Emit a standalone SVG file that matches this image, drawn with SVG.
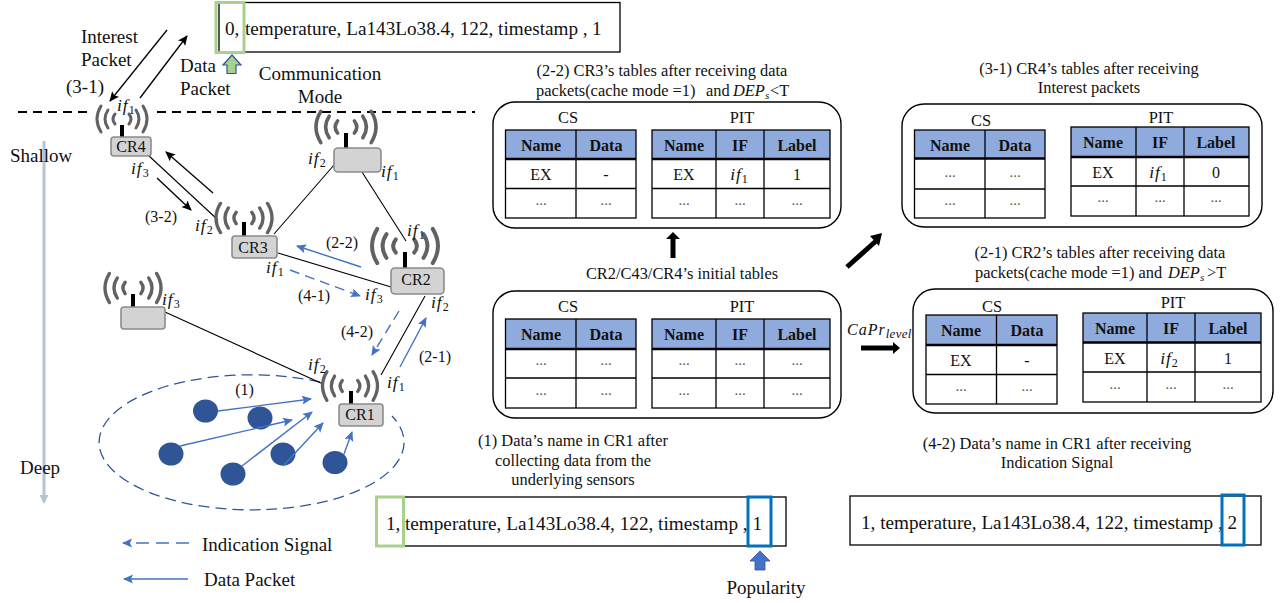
<svg xmlns="http://www.w3.org/2000/svg" width="1281" height="603" viewBox="0 0 1281 603">
<style>
text{font-family:"Liberation Serif","Times New Roman",serif;fill:#111}
.f19{font-size:19px}.f192{font-size:19.2px}.f165{font-size:16.4px}.f16{font-size:16px}
.m{text-anchor:middle}
.b{font-weight:bold}
.it{font-style:italic;letter-spacing:1px;font-size:17.5px}
.sub{font-style:normal;font-size:12px;letter-spacing:0}
.subi{font-style:italic;font-size:13px;letter-spacing:.3px}
.dots{font-size:15px;fill:#555;text-anchor:middle}
.wave{fill:none;stroke:#626262;stroke-width:3;stroke-linecap:round}
.dev{fill:#d3d3d3;stroke:#8c8c8c;stroke-width:1.6}
.ant{stroke:#000;stroke-width:4}
.link{stroke:#000;stroke-width:1.1;fill:none}
.ka{stroke:#000;stroke-width:1.3;fill:none;marker-end:url(#mk)}
.ba{stroke:#4472c4;stroke-width:1.4;fill:none;marker-end:url(#mb)}
.bd{stroke:#4472c4;stroke-width:1.4;fill:none;stroke-dasharray:10 6;marker-end:url(#mb)}
.thick{stroke:#000;stroke-width:5;fill:none}
.panel{fill:#fff;stroke:#000;stroke-width:1.4}
.hd{fill:#8faadc}
.grid{fill:none;stroke:#000;stroke-width:1.3}
.hl{stroke:#000;stroke-width:2.4}
.box{fill:#fff;stroke:#000;stroke-width:1.3}
.gbox{fill:none;stroke:#a9d18e;stroke-width:3}
.blbox{fill:none;stroke:#0070c0;stroke-width:3}
.sensor{fill:#2f5597}
</style>
<defs>
<marker id="mk" markerUnits="userSpaceOnUse" markerWidth="11" markerHeight="10" refX="9" refY="4.5" orient="auto"><path d="M0,0L10,4.5L0,9L2,4.5Z" fill="#000"/></marker>
<marker id="mb" markerUnits="userSpaceOnUse" markerWidth="11" markerHeight="10" refX="9" refY="4.5" orient="auto"><path d="M0,0L10,4.5L0,9L2,4.5Z" fill="#4472c4"/></marker>
<marker id="ms" markerUnits="userSpaceOnUse" markerWidth="11" markerHeight="10" refX="7" refY="4.5" orient="auto"><path d="M0,0L9,4.5L0,9Z" fill="#b4c3da"/></marker>
<g id="waves">
<path class="wave" d="M-21,-13Q-29,0 -21,13M-14,-9Q-20,0 -14,9M-7,-5Q-11,0 -7,5M21,-13Q29,0 21,13M14,-9Q20,0 14,9M7,-5Q11,0 7,5"/>
</g>
</defs>
<rect width="1281" height="603" fill="#fff"/>

<g id="boundary">
<path d="M18,112H90M157,112H475" stroke="#000" stroke-width="1.8" stroke-dasharray="9 6" fill="none"/>
</g>
<g id="depth-axis">
<path d="M44,141V502" stroke="#b4c3da" stroke-width="3" fill="none" marker-end="url(#ms)"/>
<text class="f19" x="10" y="162">Shallow</text>
<text class="f19" x="20" y="474">Deep</text>
</g>

<g id="sensor-field">
<path d="M320,382A152.5,67.5 0 1 0 392,416" fill="none" stroke="#2f5597" stroke-width="1.3" stroke-dasharray="11 6"/>
<ellipse class="sensor" cx="205.500" cy="411" rx="12.500" ry="11.500"/>
<ellipse class="sensor" cx="260" cy="418" rx="12.500" ry="11.500"/>
<ellipse class="sensor" cx="171" cy="454" rx="12.500" ry="11.500"/>
<ellipse class="sensor" cx="233" cy="474" rx="12.500" ry="11.500"/>
<ellipse class="sensor" cx="283" cy="454" rx="12.500" ry="11.500"/>
<ellipse class="sensor" cx="335" cy="462.500" rx="12.500" ry="11.500"/>
<text class="f16 m" x="244.500" y="395">(1)</text>
</g>

<g id="connectors">
<path class="link" d="M148,155L218,220M274,234L334,165M362,172L406,241M278,253L391,287M165,312L323,384M425,296L381,375"/>
<path class="ka" d="M167,30L110,101"/>
<path class="ka" d="M140,98L187,36"/>
<path class="ka" d="M213,193L166,152"/>
<path class="ka" d="M157,178L191,210"/>
<path class="ba" d="M361,267L297,246"/>
<path class="bd" d="M290,270L360,296"/>
<path class="bd" d="M399,311L372,355"/>
<path class="ba" d="M400,367L426,318"/>
<path class="ba" d="M218,411L311,399"/>
<path class="ba" d="M180,446L292,420"/>
<path class="ba" d="M242,466L312,412"/>
<path class="ba" d="M283,466L323,423"/>
<path class="ba" d="M344,454L352,432"/>
<path class="bd" style="stroke-dasharray:13 7" d="M189,543L123,543"/>
<path class="ba" d="M188,579L124,579"/>
<path class="thick" d="M673,258V238"/><path d="M666,239L673,232L680,239Z"/>
<path class="thick" d="M847,267L876,241"/><path d="M870,236L882,233L879,246Z"/>
<path class="thick" d="M861,348H893"/><path d="M893,342L900,348L893,354Z"/>
</g>

<g id="CR4">
<use href="#waves" transform="translate(122,119)"/>
<line class="ant" x1="122" y1="125" x2="122" y2="137"/>
<rect class="dev" x="111" y="137" width="40" height="19" rx="3"/>
<text class="f16 m" x="131" y="152">CR4</text>
<text class="it" x="117" y="111">if<tspan class="sub" dy="3">1</tspan></text>
<text class="it" x="131" y="174">if<tspan class="sub" dy="3">3</tspan></text>
</g>
<g id="CR-top">
<use href="#waves" transform="translate(346,127) scale(1.2)"/>
<line class="ant" x1="346" y1="133" x2="346" y2="148"/>
<rect class="dev" x="334" y="148" width="47" height="24" rx="4"/>
<text class="it" x="308" y="164">if<tspan class="sub" dy="3">2</tspan></text>
<text class="it" x="381" y="177">if<tspan class="sub" dy="3">1</tspan></text>
</g>
<g id="CR3">
<use href="#waves" transform="translate(244,218) scale(1.12)"/>
<line class="ant" x1="244" y1="222" x2="244" y2="236"/>
<rect class="dev" x="232" y="236" width="45" height="22" rx="3"/>
<text class="f16 m" x="253" y="253">CR3</text>
<text class="it" x="195" y="231">if<tspan class="sub" dy="3">2</tspan></text>
<text class="it" x="266" y="273">if<tspan class="sub" dy="3">1</tspan></text>
</g>
<g id="CR2">
<use href="#waves" transform="translate(405,246) scale(1.32)"/>
<line class="ant" x1="405" y1="252" x2="405" y2="268"/>
<rect class="dev" x="391" y="268" width="53" height="26" rx="4"/>
<text class="f16 m" x="416" y="285">CR2</text>
<text class="it" x="407" y="236">if<tspan class="sub" dy="3">1</tspan></text>
<text class="it" x="365" y="300">if<tspan class="sub" dy="3">3</tspan></text>
<text class="it" x="431" y="308">if<tspan class="sub" dy="3">2</tspan></text>
</g>
<g id="CR-left">
<use href="#waves" transform="translate(133,288) scale(1.12)"/>
<line class="ant" x1="133" y1="294" x2="133" y2="307"/>
<rect class="dev" x="121" y="307" width="44" height="22" rx="3"/>
<text class="it" x="162" y="305">if<tspan class="sub" dy="3">3</tspan></text>
</g>
<g id="CR1">
<use href="#waves" transform="translate(350,386) scale(1.1)"/>
<line class="ant" x1="351" y1="391" x2="351" y2="404"/>
<rect class="dev" x="339" y="404" width="44" height="22" rx="3"/>
<text class="f16 m" x="360" y="420">CR1</text>
<text class="it" x="308" y="370">if<tspan class="sub" dy="3">2</tspan></text>
<text class="it" x="387" y="388">if<tspan class="sub" dy="3">1</tspan></text>
</g>

<g id="edge-labels">
<text class="f19" x="81" y="43">Interest</text>
<text class="f19" x="81" y="66">Packet</text>
<text class="f19" x="66" y="93">(3-1)</text>
<text class="f19" x="180" y="72">Data</text>
<text class="f19" x="180" y="95">Packet</text>
<text class="f19 m" x="320" y="80">Communication</text>
<text class="f19 m" x="320" y="103">Mode</text>
<text class="f16" x="145" y="222">(3-2)</text>
<text class="f16" x="326" y="248">(2-2)</text>
<text class="f16" x="298" y="301">(4-1)</text>
<text class="f16" x="341" y="337">(4-2)</text>
<text class="f16" x="419" y="362">(2-1)</text>
</g>

<g id="name-top">
<rect class="box" x="219" y="2.500" width="401" height="49.500"/>
<text class="f192" x="225" y="35">0,</text>
<text class="f192" x="245" y="35">temperature, La143Lo38.4, 122, timestamp , <tspan x="592">1</tspan></text>
<rect class="gbox" x="216" y="2.500" width="28" height="50"/>
<path d="M232,55L241,65H236V73.500H227V65H223Z" fill="#a9d18e" stroke="#2f5597" stroke-width="1.200"/>
</g>

<g id="table-2-2">
<text class="f165 m" x="662" y="76">(2-2) CR3’s tables after receiving data</text>
<text class="f165" x="536" y="96">packets(cache mode =1)<tspan x="706">and</tspan><tspan x="733" font-style="italic">DEP</tspan><tspan font-style="italic" font-size="11" dy="3">s</tspan><tspan x="770" dy="-3">&lt;T</tspan></text>
<rect class="panel" x="493" y="102" width="348" height="126" rx="22"/>
<text class="f165 m" x="568" y="123">CS</text><text class="f165 m" x="742" y="123">PIT</text>
<rect class="hd" x="505.500" y="130" width="130.500" height="29"/><rect class="hd" x="652" y="130" width="178" height="29"/>
<rect class="grid" x="505.500" y="130" width="130.500" height="88"/><rect class="grid" x="652" y="130" width="178" height="88"/>
<path class="hl" d="M505.500,159H636M652,159H830"/>
<path class="grid" d="M576,130V218M505.500,188.500H636M716,130V218M764,130V218M652,188.500H830"/>
<text class="f16 m b" x="541" y="151">Name</text><text class="f16 m b" x="606" y="151">Data</text><text class="f16 m b" x="684" y="151">Name</text><text class="f16 m b" x="740" y="151">IF</text><text class="f16 m b" x="797" y="151">Label</text>
<text class="f16 m" x="541" y="180">EX</text><text class="f16 m" x="606" y="180">-</text><text class="f16 m" x="684" y="180">EX</text><text class="it m" x="739" y="180">if<tspan class="sub" dy="3">1</tspan></text><text class="f16 m" x="797" y="180">1</text>
<text class="dots" x="541" y="205">...</text><text class="dots" x="606" y="205">...</text><text class="dots" x="684" y="205">...</text><text class="dots" x="740" y="205">...</text><text class="dots" x="797" y="205">...</text>
</g>

<g id="table-initial">
<text class="f165 m" x="682" y="279">CR2/C43/CR4’s initial tables</text>
<rect class="panel" x="493" y="291" width="348" height="127" rx="22"/>
<text class="f165 m" x="568" y="312">CS</text><text class="f165 m" x="742" y="312">PIT</text>
<rect class="hd" x="505.500" y="319" width="130.500" height="30"/><rect class="hd" x="652" y="319" width="178" height="30"/>
<rect class="grid" x="505.500" y="319" width="130.500" height="89"/><rect class="grid" x="652" y="319" width="178" height="89"/>
<path class="hl" d="M505.500,349H636M652,349H830"/>
<path class="grid" d="M576,319V408M505.500,378H636M716,319V408M764,319V408M652,378H830"/>
<text class="f16 m b" x="541" y="340">Name</text><text class="f16 m b" x="606" y="340">Data</text><text class="f16 m b" x="684" y="340">Name</text><text class="f16 m b" x="740" y="340">IF</text><text class="f16 m b" x="797" y="340">Label</text>
<text class="dots" x="541" y="365">...</text><text class="dots" x="606" y="365">...</text><text class="dots" x="684" y="365">...</text><text class="dots" x="740" y="365">...</text><text class="dots" x="797" y="365">...</text>
<text class="dots" x="541" y="395">...</text><text class="dots" x="606" y="395">...</text><text class="dots" x="684" y="395">...</text><text class="dots" x="740" y="395">...</text><text class="dots" x="797" y="395">...</text>
</g>

<g id="table-3-1">
<text class="f165 m" x="1089" y="74">(3-1) CR4’s tables after receiving</text>
<text class="f165 m" x="1089" y="93">Interest packets</text>
<rect class="panel" x="902" y="104" width="360" height="123" rx="22"/>
<text class="f165 m" x="981" y="126">CS</text><text class="f165 m" x="1161" y="123">PIT</text>
<rect class="hd" x="914.500" y="130" width="130.500" height="28"/><rect class="hd" x="1071" y="127" width="178" height="30"/>
<rect class="grid" x="914.500" y="130" width="130.500" height="88"/><rect class="grid" x="1071" y="127" width="178" height="89"/>
<path class="hl" d="M914.500,158.500H1045M1071,157H1249"/>
<path class="grid" d="M985,130V218M914.500,189H1045M1136,127V216M1184,127V216M1071,186H1249"/>
<text class="f16 m b" x="950" y="151">Name</text><text class="f16 m b" x="1015" y="151">Data</text><text class="f16 m b" x="1103" y="148">Name</text><text class="f16 m b" x="1160" y="148">IF</text><text class="f16 m b" x="1216" y="148">Label</text>
<text class="dots" x="950" y="177">...</text><text class="dots" x="1015" y="177">...</text><text class="f16 m" x="1103" y="178">EX</text><text class="it m" x="1158" y="178">if<tspan class="sub" dy="3">1</tspan></text><text class="f16 m" x="1216" y="178">0</text>
<text class="dots" x="950" y="205">...</text><text class="dots" x="1015" y="205">...</text><text class="dots" x="1103" y="202">...</text><text class="dots" x="1160" y="202">...</text><text class="dots" x="1216" y="202">...</text>
</g>

<g id="table-2-1">
<text class="f165 m" x="1100" y="258">(2-1) CR2’s tables after receiving data</text>
<text class="f165" x="975" y="278">packets(cache mode =1) and <tspan x="1168" font-style="italic">DEP</tspan><tspan font-style="italic" font-size="11" dy="3">s</tspan><tspan x="1207" dy="-3">&gt;T</tspan></text>
<text class="it" x="847" y="335" style="font-size:16px">CaPr<tspan class="subi" dy="3">level</tspan></text>
<rect class="panel" x="913" y="289" width="360" height="124" rx="22"/>
<text class="f165 m" x="992" y="312">CS</text><text class="f165 m" x="1173" y="308">PIT</text>
<rect class="hd" x="926" y="315" width="131" height="30"/><rect class="hd" x="1083" y="313" width="178" height="29.500"/>
<rect class="grid" x="926" y="315" width="131" height="89"/><rect class="grid" x="1083" y="313" width="178" height="89"/>
<path class="hl" d="M926,345H1057M1083,342.500H1261"/>
<path class="grid" d="M996.500,315V404M926,374.500H1057M1147,313V402M1195,313V402M1083,372H1261"/>
<text class="f16 m b" x="961" y="336">Name</text><text class="f16 m b" x="1027" y="336">Data</text><text class="f16 m b" x="1115" y="334">Name</text><text class="f16 m b" x="1171" y="334">IF</text><text class="f16 m b" x="1228" y="334">Label</text>
<text class="f16 m" x="961" y="366">EX</text><text class="f16 m" x="1027" y="366">-</text><text class="f16 m" x="1115" y="364">EX</text><text class="it m" x="1169" y="364">if<tspan class="sub" dy="3">2</tspan></text><text class="f16 m" x="1228" y="364">1</text>
<text class="dots" x="961" y="391">...</text><text class="dots" x="1027" y="391">...</text><text class="dots" x="1115" y="389">...</text><text class="dots" x="1171" y="389">...</text><text class="dots" x="1228" y="389">...</text>
</g>

<g id="name-collect">
<text class="f165 m" x="573" y="446">(1) Data’s name in CR1 after</text>
<text class="f165 m" x="573" y="466">collecting data from the</text>
<text class="f165 m" x="573" y="485">underlying sensors</text>
<rect class="box" x="377" y="497" width="409" height="49"/>
<text class="f192" x="386" y="530">1,</text>
<text class="f192" x="405" y="530">temperature, La143Lo38.4, 122, timestamp , <tspan x="752.500">1</tspan></text>
<rect class="gbox" x="376.500" y="497" width="27" height="49"/>
<rect class="blbox" x="748" y="497" width="23" height="49"/>
<path d="M760,551L770,561H765V570H755V561H750Z" fill="#4472c4" stroke="#2f5597" stroke-width="0.800"/>
<text class="f19 m" x="766" y="594">Popularity</text>
</g>

<g id="name-indication">
<text class="f165 m" x="1057" y="449">(4-2) Data’s name in CR1 after receiving</text>
<text class="f165 m" x="1057" y="468">Indication Signal</text>
<rect class="box" x="850" y="496" width="411" height="49"/>
<text class="f192" x="861" y="529">1, temperature, La143Lo38.4, 122, timestamp , <tspan x="1227.500">2</tspan></text>
<rect class="blbox" x="1222" y="495" width="22" height="50"/>
</g>

<g id="legend">
<text class="f19" x="202" y="551">Indication Signal</text>
<text class="f19" x="204" y="586">Data Packet</text>
</g>
</svg>
